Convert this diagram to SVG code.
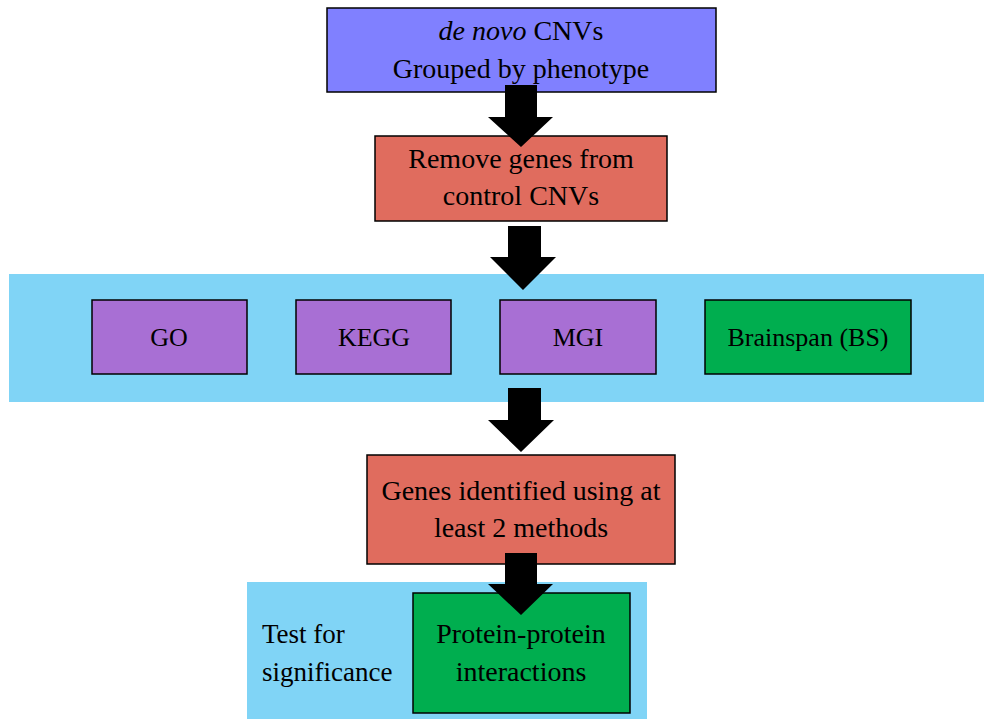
<svg xmlns="http://www.w3.org/2000/svg" width="984" height="719" viewBox="0 0 984 719">
<style>
.box{stroke:#000;stroke-width:1.5}
.t{font-family:"Liberation Serif","Times New Roman",serif;font-size:28px;fill:#000;text-anchor:middle}
.l{font-family:"Liberation Serif","Times New Roman",serif;font-size:27px;fill:#000}
.s{font-family:"Liberation Serif","Times New Roman",serif;font-size:26px;fill:#000;text-anchor:middle}
.arrow{fill:#000}
</style>
<rect width="984" height="719" fill="#fff"/>
<g id="band1"><rect x="9" y="274" width="975" height="128" fill="#80d4f6"/></g>
<g id="band2"><rect x="247" y="582" width="400" height="137" fill="#80d4f6"/></g>
<g id="n1"><rect class="box" x="327" y="8" width="389" height="84" fill="#8080ff"/>
<text class="t" x="521" y="40"><tspan font-style="italic">de novo</tspan> CNVs</text>
<text class="t" x="521" y="78">Grouped by phenotype</text></g>
<g id="n2"><rect class="box" x="375" y="136" width="292" height="85" fill="#e06c5e"/>
<text class="t" x="521" y="168">Remove genes from</text>
<text class="t" x="521" y="205">control CNVs</text></g>
<g id="go"><rect class="box" x="92" y="300" width="155" height="74" fill="#a86fd4"/><text class="s" x="169" y="346">GO</text></g>
<g id="kegg"><rect class="box" x="296" y="300" width="155" height="74" fill="#a86fd4"/><text class="s" x="374" y="346">KEGG</text></g>
<g id="mgi"><rect class="box" x="500" y="300" width="156" height="74" fill="#a86fd4"/><text class="s" x="578" y="346">MGI</text></g>
<g id="bs"><rect class="box" x="705" y="300" width="206" height="74" fill="#00ae4f"/><text class="s" x="808" y="346">Brainspan (BS)</text></g>
<g id="n3"><rect class="box" x="367" y="455" width="308" height="109" fill="#e06c5e"/>
<text class="t" x="521" y="500">Genes identified using at</text>
<text class="t" x="521" y="537">least 2 methods</text></g>
<g id="n4"><rect class="box" x="413" y="593" width="217" height="120" fill="#00ae4f"/>
<text class="t" x="521" y="643">Protein-protein</text>
<text class="t" x="521" y="681">interactions</text></g>
<g id="label"><text class="l" x="262" y="643">Test for</text>
<text class="l" x="262" y="681">significance</text></g>
<g id="connectors">
<polygon class="arrow" points="505,85 537,85 537,117 553,117 521,147 488,117 505,117"/>
<polygon class="arrow" points="508,226 541,226 541,257 556,257 523,290 490,257 508,257"/>
<polygon class="arrow" points="508,388 541,388 541,420 554,420 521,452 488,420 508,420"/>
<polygon class="arrow" points="505,553 537,553 537,584 553,584 521,615 488,584 505,584"/>
</g>
</svg>
